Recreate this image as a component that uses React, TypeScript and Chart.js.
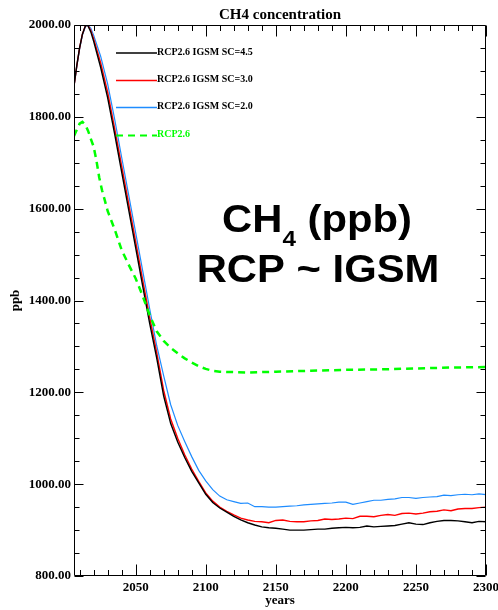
import React, { useEffect, useRef } from "react";
import { Chart, registerables } from "chart.js";

Chart.register(...registerables);

// ---- data ----
const IGSM_YEARS = [
  2006, 2008, 2010, 2012, 2014, 2015, 2016, 2018, 2020, 2025, 2030, 2035, 2040, 2045, 2050, 2055,
  2060, 2065, 2070, 2075, 2080, 2085, 2090, 2095, 2100, 2105, 2110, 2115, 2120, 2125, 2130, 2135,
  2140, 2145, 2150, 2155, 2160, 2165, 2170, 2175, 2180, 2185, 2190, 2195, 2200, 2205, 2210, 2215,
  2220, 2225, 2230, 2235, 2240, 2245, 2250, 2255, 2260, 2265, 2270, 2275, 2280, 2285, 2290, 2295, 2300,
];

const SC45 = [
  1867, 1912, 1950, 1980, 1997, 2000, 1998, 1985, 1965, 1908, 1842, 1763, 1680, 1598, 1515, 1432,
  1350, 1275, 1192, 1132, 1092, 1058, 1028, 1003, 978, 960, 948, 939, 930, 922, 916, 911,
  907, 905, 904, 902, 900, 900, 900, 901, 902, 902, 904, 905, 906, 905, 906, 909,
  907, 908, 909, 910, 913, 916, 913, 912, 916, 919, 921, 921, 920, 918, 916, 919, 918,
];

const SC30 = [
  1867, 1911, 1950, 1980, 1997, 2000, 1999, 1988, 1970, 1918, 1854, 1775, 1693, 1611, 1528, 1445,
  1363, 1287, 1204, 1142, 1100, 1064, 1033, 1006, 981, 963, 950, 941, 933, 926, 922, 919,
  918, 916, 921, 922, 919, 918, 918, 920, 921, 924, 923, 924, 926, 925, 930, 930,
  929, 932, 934, 932, 936, 937, 935, 937, 940, 941, 944, 942, 946, 947, 947, 949, 950,
];

const SC20 = [
  1867, 1910, 1948, 1978, 1995, 1999, 2000, 1993, 1978, 1932, 1872, 1795, 1712, 1630, 1548, 1465,
  1382, 1302, 1236, 1173, 1128, 1093, 1060, 1030, 1007, 988, 974, 966, 962, 958, 959, 951,
  951, 950, 950, 951, 952, 953, 955, 956, 957, 958, 959, 961, 961, 956, 959, 962,
  965, 965, 967, 968, 971, 971, 969, 971, 972, 973, 976, 975, 977, 978, 977, 979, 977,
];

const RCP_YEARS = [
  2006, 2008, 2010, 2012, 2014, 2016, 2018, 2020, 2022, 2024, 2026, 2028, 2030, 2035, 2040, 2045,
  2050, 2055, 2060, 2065, 2070, 2075, 2080, 2085, 2090, 2095, 2100, 2105, 2110, 2120, 2130, 2150,
  2175, 2200, 2225, 2250, 2275, 2300,
];

const RCP26 = [
  1758, 1772, 1785, 1789, 1783, 1770, 1752, 1735, 1705, 1668, 1640, 1618, 1595, 1555, 1510, 1478,
  1448, 1410, 1368, 1333, 1312, 1297, 1285, 1274, 1265, 1257, 1251, 1247, 1245, 1244, 1243, 1245,
  1247, 1249, 1250, 1252, 1254, 1255,
];

const X_TICKS = [2050, 2100, 2150, 2200, 2250, 2300];
const Y_TICKS = [800, 1000, 1200, 1400, 1600, 1800, 2000];
const X_MINOR_STEP = 10;
const Y_MINOR_STEP = 50;

const SERIES_LABELS = ["RCP2.6 IGSM SC=4.5", "RCP2.6 IGSM SC=3.0", "RCP2.6 IGSM SC=2.0", "RCP2.6"];
const SERIES_COLORS = ["#000000", "#ff0000", "#1e8cff", "#00ff00"];

const TITLE = "CH4 concentration";
const X_TITLE = "years";
const Y_TITLE = "ppb";

const SERIF = '"Liberation Serif", "Times New Roman", serif';
const SANS = '"Liberation Sans", Arial, Helvetica, sans-serif';

const toPts = (xs: number[], ys: number[]) => xs.map((x, i) => ({ x, y: ys[i] }));

const overlayPlugin = {
  id: "overlay",
  afterDraw(chart: any) {
    const ctx: CanvasRenderingContext2D = chart.ctx;
    const { left, right, top, bottom } = chart.chartArea;
    const xs = chart.scales.x;
    const ys = chart.scales.y;
    const L = Math.round(left) + 0.5;
    const R = Math.round(right) - 0.5;
    const T = Math.round(top) + 0.5;
    const B = Math.round(bottom) - 0.5;

    ctx.save();
    ctx.strokeStyle = "#000";
    ctx.lineWidth = 1;
    ctx.beginPath();
    ctx.rect(L, T, R - L, B - T);
    ctx.stroke();

    // x ticks (inward, top and bottom)
    ctx.beginPath();
    const xmin = xs.min, xmax = xs.max;
    for (let v = Math.ceil(xmin / X_MINOR_STEP) * X_MINOR_STEP; v <= xmax; v += X_MINOR_STEP) {
      const px = Math.round(xs.getPixelForValue(v)) + 0.5;
      const len = X_TICKS.includes(v) ? 11 : 5.5;
      ctx.moveTo(px, B);
      ctx.lineTo(px, B - len);
      ctx.moveTo(px, T);
      ctx.lineTo(px, T + len);
    }
    // y ticks (inward, left and right)
    for (let v = ys.min; v <= ys.max; v += Y_MINOR_STEP) {
      const py = Math.round(ys.getPixelForValue(v)) + 0.5;
      const len = Y_TICKS.includes(v) ? 9 : 5;
      ctx.moveTo(L, py);
      ctx.lineTo(L + len, py);
      ctx.moveTo(R, py);
      ctx.lineTo(R - len, py);
    }
    ctx.stroke();

    // title
    ctx.fillStyle = "#000";
    ctx.font = `bold 15px ${SERIF}`;
    ctx.textAlign = "center";
    ctx.textBaseline = "alphabetic";
    ctx.fillText(TITLE, (left + right) / 2, 19);

    // x title
    ctx.font = `bold 13px ${SERIF}`;
    ctx.fillText(X_TITLE, (left + right) / 2, 604);

    // y title
    ctx.save();
    ctx.translate(18.5, (top + bottom) / 2);
    ctx.rotate(-Math.PI / 2);
    ctx.fillText(Y_TITLE, 0, 0);
    ctx.restore();

    // legend
    const legY = [53, 80.5, 107.5, 135.5];
    ctx.font = `bold 10px ${SERIF}`;
    ctx.textAlign = "left";
    SERIES_LABELS.forEach((lab, i) => {
      ctx.save();
      ctx.strokeStyle = SERIES_COLORS[i];
      ctx.lineWidth = i === 3 ? 2 : 1.3;
      if (i === 3) ctx.setLineDash([7, 5]);
      ctx.beginPath();
      ctx.moveTo(116, legY[i]);
      ctx.lineTo(157, legY[i]);
      ctx.stroke();
      ctx.restore();
      ctx.fillStyle = i === 3 ? SERIES_COLORS[3] : "#000";
      ctx.fillText(lab, 157, legY[i] + 1.5);
    });

    // annotation
    const sx = 1.1;
    const big = `bold 38px ${SANS}`;
    const sub = `bold 22px ${SANS}`;
    ctx.fillStyle = "#000";
    ctx.textAlign = "left";
    ctx.font = big;
    const w1a = ctx.measureText("CH").width;
    const w1c = ctx.measureText(" (ppb)").width;
    ctx.font = sub;
    const w1b = ctx.measureText("4").width;
    const total1 = (w1a + w1b + w1c) * sx;
    const cx = 317;
    ctx.save();
    ctx.translate(cx - total1 / 2, 232);
    ctx.scale(sx, 1);
    ctx.font = big;
    ctx.fillText("CH", 0, 0);
    ctx.font = sub;
    ctx.fillText("4", w1a, 14);
    ctx.font = big;
    ctx.fillText(" (ppb)", w1a + w1b, 0);
    ctx.restore();
    ctx.font = big;
    const w2 = ctx.measureText("RCP ~ IGSM").width * sx;
    ctx.save();
    ctx.translate(cx - w2 / 2 + 1, 282);
    ctx.scale(sx, 1);
    ctx.fillText("RCP ~ IGSM", 0, 0);
    ctx.restore();

    ctx.restore();
  },
};

export default function App() {
  const ref = useRef<HTMLCanvasElement | null>(null);

  useEffect(() => {
    if (!ref.current) return;
    const tickFont = { family: SERIF, size: 13, weight: "bold" as const };
    const chart = new Chart(ref.current, {
      type: "line",
      data: {
        datasets: [
          {
            label: SERIES_LABELS[3],
            data: toPts(RCP_YEARS, RCP26),
            borderColor: SERIES_COLORS[3],
            borderWidth: 2.5,
            borderDash: [7, 5],
          },
          {
            label: SERIES_LABELS[0],
            data: toPts(IGSM_YEARS, SC45),
            borderColor: SERIES_COLORS[0],
            borderWidth: 1.4,
          },
          {
            label: SERIES_LABELS[1],
            data: toPts(IGSM_YEARS, SC30),
            borderColor: SERIES_COLORS[1],
            borderWidth: 1.4,
          },
          {
            label: SERIES_LABELS[2],
            data: toPts(IGSM_YEARS, SC20),
            borderColor: SERIES_COLORS[2],
            borderWidth: 1.2,
          },
        ],
      },
      options: {
        animation: false,
        responsive: false,
        maintainAspectRatio: false,
        layout: { padding: { top: 25, right: 12, left: 0, bottom: 0 } },
        elements: { point: { radius: 0 }, line: { tension: 0, fill: false } },
        plugins: {
          legend: { display: false },
          tooltip: { enabled: false },
          title: { display: false },
        },
        scales: {
          x: {
            type: "linear",
            min: 2006,
            max: 2300,
            grid: { display: false, drawTicks: false },
            border: { display: false },
            ticks: {
              font: tickFont,
              color: "#000",
              padding: 4,
              maxRotation: 0,
              autoSkip: false,
              callback: (v: any) => String(v),
            },
            afterBuildTicks: (s: any) => {
              s.ticks = X_TICKS.map((v) => ({ value: v }));
            },
            afterFit: (s: any) => {
              s.height = 34;
              s.paddingLeft = 0;
              s.paddingRight = 0;
            },
          },
          y: {
            type: "linear",
            min: 800,
            max: 2000,
            grid: { display: false, drawTicks: false },
            border: { display: false },
            ticks: {
              font: tickFont,
              color: "#000",
              padding: 3,
              autoSkip: false,
              callback: (v: any) => Number(v).toFixed(2),
            },
            afterBuildTicks: (s: any) => {
              s.ticks = Y_TICKS.map((v) => ({ value: v }));
            },
            afterFit: (s: any) => {
              s.width = 74;
              s.paddingTop = 0;
              s.paddingBottom = 0;
            },
          },
        },
      },
      plugins: [overlayPlugin],
    });
    return () => chart.destroy();
  }, []);

  return (
    <div style={{ position: "absolute", left: 0, top: 0, width: 498, height: 610, background: "#fff" }}>
      <canvas ref={ref} width={498} height={610} style={{ display: "block", width: 498, height: 610 }} />
    </div>
  );
}
